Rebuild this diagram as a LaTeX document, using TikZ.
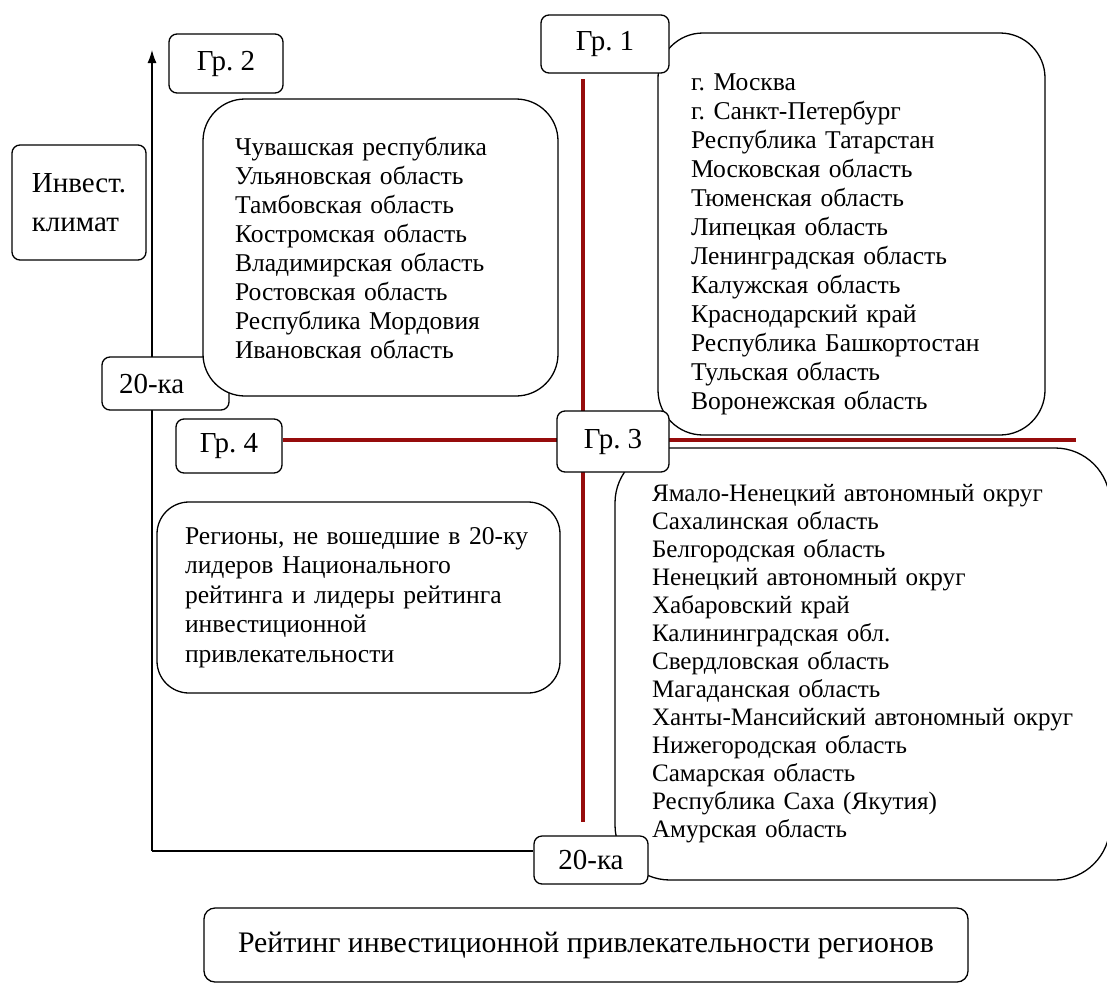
\documentclass[tikz,border=0pt]{standalone}
\usepackage{fontspec}
\setmainfont{Liberation Serif}
\usetikzlibrary{arrows.meta,backgrounds}
\definecolor{splitred}{RGB}{150,12,12}
\frenchspacing

\begin{document}
\begin{tikzpicture}[x=1pt,y=-1pt,
    tag/.style={draw, line width=1.3pt, rounded corners=8pt, fill=white, inner sep=0pt,
        font=\fontsize{29}{34}\selectfont},
    listbox/.style={draw, line width=1.3pt, fill=white, inner sep=0pt, align=left,
        font=\fontsize{25.6}{29}\selectfont},
    redline/.style={line width=4pt, draw=splitred},
    axis/.style={line width=1.2pt}]
    \useasboundingbox (0,0) rectangle (1107,985);

    % Fixed points of the axes and the red split lines
    \coordinate (origin) at (152,851);
    \coordinate (ytop) at (152,50);
    \coordinate (vtop) at (583,79);
    \coordinate (vbot) at (583,822);
    \coordinate (hend) at (1076,440);

    % Axis label and the 20-ka mark on the vertical axis
    \node[tag, minimum width=134pt, minimum height=115pt, align=left,
        font=\fontsize{29}{39}\selectfont] (climate) at (79,202.5) {Инвест.\\климат};
    \node[tag, minimum width=127pt, minimum height=53pt, text width=93pt, align=left] (leftmark) at (165.5,383.5) {20-ка};

    % Group 2 list
    \node[listbox, rounded corners=42pt, minimum width=355pt, minimum height=297pt, text width=291pt] (list2) at (380.5,247.5) {
        Чувашская республика\\
        Ульяновская область\\
        Тамбовская область\\
        Костромская область\\
        Владимирская область\\
        Ростовская область\\
        Республика Мордовия\\
        Ивановская область};

    % Group 1 list
    \node[listbox, rounded corners=45pt, minimum width=387pt, minimum height=402pt, text width=321pt] (list1) at (851.5,234) {
        \rule{0pt}{37pt}г. Москва\\
        г. Санкт-Петербург\\
        Республика Татарстан\\
        Московская область\\
        Тюменская область\\
        Липецкая область\\
        Ленинградская область\\
        Калужская область\\
        Краснодарский край\\
        Республика Башкортостан\\
        Тульская область\\
        Воронежская область};

    % Group 3 list
    \node[listbox, rounded corners=55pt, minimum width=495pt, minimum height=432pt, text width=421pt,
        font=\fontsize{25.1}{28}\selectfont] (list3) at (862.5,664) {
        Ямало-Ненецкий автономный округ\\
        Сахалинская область\\
        Белгородская область\\
        Ненецкий автономный округ\\
        Хабаровский край\\
        Калининградская обл.\\
        Свердловская область\\
        Магаданская область\\
        \mbox{Ханты-Мансийский автономный округ}\\
        Нижегородская область\\
        Самарская область\\
        Республика Саха (Якутия)\\
        Амурская область};

    % Group 4 text
    \node[listbox, rounded corners=32pt, minimum width=403pt, minimum height=191pt, text width=347pt,
        font=\fontsize{25.6}{29.5}\selectfont] (list4) at (358.5,597.5) {
        Регионы, не вошедшие в 20-ку\\
        лидеров Национального\\
        рейтинга и лидеры рейтинга\\
        инвестиционной\\
        привлекательности};

    % Group tags
    \node[tag, minimum width=128pt, minimum height=58pt] (g1) at (605,44) {Гр. 1};
    \node[tag, minimum width=114pt, minimum height=59pt] (g2) at (226,63.5) {Гр. 2};
    \node[tag, minimum width=112pt, minimum height=61pt] (g3) at (613,441.5) {Гр. 3};
    \node[tag, minimum width=106pt, minimum height=54pt] (g4) at (229,446) {Гр. 4};

    % 20-ka mark on the horizontal axis and the axis title
    \node[tag, minimum width=114pt, minimum height=48pt] (bottommark) at (591,860) {20-ка};
    \node[tag, rounded corners=11pt, minimum width=764pt, minimum height=74pt,
        font=\fontsize{29.8}{34}\selectfont] (title) at (586,945)
        {Рейтинг инвестиционной привлекательности регионов};

    % Axes and split lines go under the boxes
    \begin{scope}[on background layer]
        \draw[axis, -{Latex[length=13pt, width=9pt]}] (origin) -- (ytop);
        \draw[axis] (origin) -- (origin -| bottommark.west);
        \draw[redline] (vtop) -- (vbot);
        \draw[redline] (g4.east |- hend) -- (hend);
    \end{scope}
\end{tikzpicture}
\end{document}
